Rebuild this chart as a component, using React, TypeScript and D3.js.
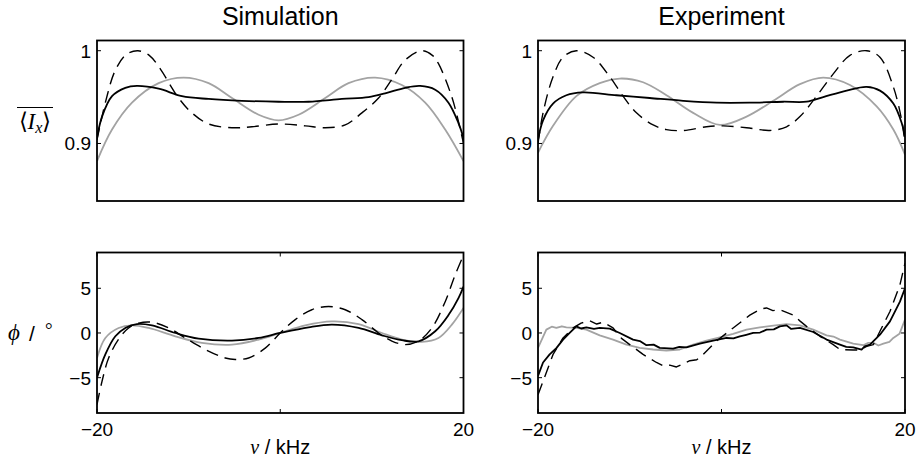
import React from 'react';
import * as d3 from 'd3';

type P = [number, number];

const titles = ['Simulation', 'Experiment'];
const freqDomain: P = [-20, 20];
const freqTicks = [-20, 0, 20];
const freqTickLabels = ['−20', '', '20'];
const ixDomain: P = [0.838, 1.011];
const ixTicks = [0.9, 1];
const ixTickLabels = ['0.9', '1'];
const phiDomain: P = [-8.95, 9.0];
const phiTicks = [-5, 0, 5];
const phiTickLabels = ['−5', '0', '5'];

// Simulation, intensity
const simIxDashed: P[] = [
  [-20, 0.904], [-19.09, 0.944], [-18.0, 0.979], [-16.8, 0.996], [-15.53, 1.0], [-14.3, 0.995], [-13.27, 0.983],
  [-11.09, 0.949], [-9.64, 0.933], [-7.82, 0.921], [-5.27, 0.917], [-3.09, 0.918], [-0.18, 0.921],
  [2.73, 0.919], [4.91, 0.917], [7.09, 0.92], [8.91, 0.933], [10.73, 0.949], [12.18, 0.969],
  [13.64, 0.99], [15.45, 1.0], [16.6, 0.995], [17.27, 0.986], [18.73, 0.95], [19.82, 0.908], [20, 0.9],
];
const simIxSolid: P[] = [
  [-20, 0.906], [-19.45, 0.929], [-18.36, 0.951], [-16.91, 0.96], [-15.64, 0.962], [-13.27, 0.959],
  [-10.73, 0.951], [-7.82, 0.948], [-4.18, 0.946], [-0.18, 0.945], [3.09, 0.945], [6.73, 0.948],
  [9.64, 0.95], [11.45, 0.954], [13.64, 0.96], [15.27, 0.962], [16.91, 0.958], [18.36, 0.944],
  [19.45, 0.922], [20, 0.906],
];
const simIxGray: P[] = [
  [-20, 0.881], [-18.36, 0.915], [-16.18, 0.944], [-13.27, 0.965], [-10.55, 0.971], [-7.82, 0.965],
  [-5.27, 0.949], [-2.36, 0.931], [-0.18, 0.925], [2.0, 0.931], [4.91, 0.949], [7.45, 0.965],
  [10.36, 0.971], [13.27, 0.963], [15.82, 0.944], [18.0, 0.915], [20, 0.881],
];

// Experiment, intensity
const expIxDashed: P[] = [
  [-20, 0.9], [-19.45, 0.933], [-18.36, 0.972], [-17.27, 0.993], [-15.82, 1.0], [-14.0, 0.993],
  [-12.18, 0.972], [-10.73, 0.951], [-9.27, 0.933], [-7.45, 0.92], [-6.0, 0.915], [-4.18, 0.914],
  [-1.64, 0.918], [0.18, 0.919], [2.73, 0.917], [5.27, 0.914], [7.09, 0.918], [8.55, 0.929],
  [10.36, 0.951], [12.18, 0.975], [14.0, 0.995], [15.82, 1.0], [17.27, 0.993], [18.73, 0.961],
  [19.64, 0.925], [20, 0.9],
];
const expIxSolid: P[] = [
  [-20, 0.904], [-19.45, 0.925], [-18.36, 0.943], [-16.91, 0.952], [-15.09, 0.955], [-11.45, 0.952],
  [-7.82, 0.949], [-4.18, 0.946], [-0.55, 0.944], [3.09, 0.944], [6.73, 0.945], [9.27, 0.945],
  [11.09, 0.95], [13.64, 0.957], [15.82, 0.961], [17.27, 0.957], [18.73, 0.943], [19.64, 0.922],
  [20, 0.907],
];
const expIxGray: P[] = [
  [-20, 0.89], [-18.36, 0.919], [-15.82, 0.951], [-13.27, 0.965], [-11.09, 0.97], [-8.55, 0.966],
  [-6.0, 0.952], [-3.09, 0.933], [-0.18, 0.92], [2.73, 0.929], [5.64, 0.946], [8.55, 0.964],
  [11.09, 0.971], [14.0, 0.963], [16.91, 0.94], [18.73, 0.915], [20, 0.888],
];

// Simulation, phase
const simPhiDashed: P[] = [
  [-20, -8.0], [-19.45, -5.4], [-18.73, -2.8], [-17.64, -0.7], [-16.55, 0.56], [-15.45, 1.1],
  [-14.0, 1.2], [-12.18, 0.56], [-10.36, -0.56], [-8.18, -1.85], [-6.0, -2.8], [-4.91, -2.96],
  [-3.45, -2.8], [-1.64, -1.7], [0, 0], [1.64, 1.5], [3.45, 2.6], [5.27, 2.96], [7.09, 2.6],
  [8.91, 1.5], [10.73, 0], [12.18, -0.9], [13.64, -1.3], [15.09, -0.9], [16.55, 0.56], [18.0, 3.5],
  [19.09, 6.5], [20, 8.7],
];
const simPhiSolid: P[] = [
  [-20, -5], [-19.09, -2.4], [-18.0, -0.37], [-16.91, 0.56], [-15.64, 1.0], [-14.0, 0.85],
  [-11.45, 0], [-8.91, -0.63], [-5.27, -0.85], [-2.36, -0.56], [0, 0], [3.09, 0.63], [5.64, 0.93],
  [8.55, 0.56], [11.09, -0.26], [13.27, -0.81], [15.09, -0.93], [16.91, 0.19], [18.36, 2.0],
  [19.45, 3.9], [20, 5.2],
];
const simPhiGray: P[] = [
  [-20, -2.8], [-19.09, -0.56], [-17.64, 0.56], [-16.18, 0.85], [-14.36, 0.56], [-11.45, -0.37],
  [-8.55, -1.1], [-5.27, -1.3], [-2.36, -0.74], [0, 0], [2.73, 0.85], [5.64, 1.3], [8.55, 1.0],
  [11.09, 0], [13.27, -0.74], [15.45, -1.0], [17.27, -0.56], [18.73, 0.93], [20, 2.8],
];

// Experiment, phase
const expPhiDashed: P[] = [
  [-20, -6.9], [-19.45, -5.4], [-18.36, -2.4], [-17.27, -0.56], [-16.18, 0.56], [-15.3, 1.1],
  [-14.36, 1.37], [-13.6, 1.0], [-12.91, 1.2], [-11.82, 0.56], [-10.9, -0.6], [-10.0, -1.3],
  [-8.55, -2.4], [-7.09, -3.3], [-6.3, -3.7], [-5.64, -3.6], [-4.91, -3.8], [-3.45, -3.1],
  [-2.7, -3.0], [-2.0, -2.4], [-0.55, -0.9], [1.27, 0.56], [3.09, 2.0], [4.3, 2.7], [4.91, 2.8],
  [5.6, 2.5], [6.36, 2.6], [7.82, 2.0], [8.6, 1.3], [9.27, 0.74], [10.73, -0.37], [12.18, -1.3],
  [12.91, -1.85], [14.36, -1.9], [15.09, -1.9], [15.82, -1.5], [16.55, -1.3], [17.27, 0.19],
  [18.36, 2.4], [19.45, 5.4], [20, 7.8],
];
const expPhiSolid: P[] = [
  [-20, -4.8], [-19.45, -3.3], [-18.73, -2.4], [-18.0, -1.7], [-17.27, -0.74], [-16.55, 0],
  [-15.82, 0.74], [-15.3, 0.5], [-14.73, 0.63], [-13.9, 0.45], [-13.27, 0.56], [-12.18, 0.48],
  [-11.09, 0], [-9.64, -0.74], [-8.9, -0.9], [-8.18, -1.37], [-7.4, -1.3], [-6.73, -1.67],
  [-5.27, -1.74], [-4.6, -1.55], [-3.82, -1.6], [-2.36, -1.2], [-0.91, -0.85], [0.55, -0.56],
  [1.3, -0.6], [2.0, -0.37], [2.7, -0.2], [3.45, 0], [4.2, 0.05], [4.91, 0.37], [5.7, 0.4],
  [6.36, 0.74], [7.09, 0.85], [7.6, 0.45], [8.55, 0.56], [10.0, 0.11], [11.45, -0.74],
  [12.91, -1.3], [13.6, -1.55], [14.36, -1.6], [15.27, -1.85], [15.6, -1.5], [16.18, -1.3],
  [17.27, -0.19], [18.36, 1.3], [19.45, 3.5], [20, 5],
];
const expPhiGray: P[] = [
  [-20, -1.67], [-19.09, 0.37], [-18.5, 0.7], [-18.0, 0.56], [-17.4, 0.75], [-16.91, 0.63],
  [-15.82, 0.56], [-14.73, 0.37], [-13.27, -0.26], [-11.82, -0.74], [-10.36, -1.3], [-8.91, -1.67],
  [-7.45, -1.85], [-6.0, -1.96], [-4.55, -1.85], [-3.09, -1.3], [-1.64, -0.85], [-0.18, -0.48],
  [1.27, -0.11], [2.73, 0.37], [4.18, 0.63], [5.64, 0.81], [7.09, 1.0], [8.55, 0.85], [10.0, 0.37],
  [11.45, -0.26], [12.2, -0.4], [12.91, -0.74], [14.36, -1.2], [15.45, -1.37], [16.0, -1.1],
  [16.55, -1.1], [17.1, -1.4], [17.64, -1.2], [18.3, -1.0], [18.73, -0.56], [19.4, -0.1], [20, 1.5],
];

const SANS = '"Liberation Sans", Arial, Helvetica, sans-serif';
const SERIF = '"Liberation Serif", "Times New Roman", serif';
const GRAY = '#a3a3a3';

type Series = { data: P[]; kind: 'gray' | 'dashed' | 'solid' };

type PanelProps = {
  id: string;
  x0: number; x1: number; y0: number; y1: number;
  yDomain: P; yTicks: number[]; yTickLabels: string[];
  series: Series[];
  showXAxis: boolean;
  smooth: boolean;
};

function Panel({ id, x0, x1, y0, y1, yDomain, yTicks, yTickLabels, series, showXAxis, smooth }: PanelProps) {
  const x = d3.scaleLinear().domain(freqDomain).range([x0, x1]);
  const y = d3.scaleLinear().domain(yDomain).range([y1, y0]);
  const line = d3
    .line<P>()
    .x((d) => x(d[0]))
    .y((d) => y(d[1]))
    .curve(smooth ? d3.curveCatmullRom.alpha(0.5) : d3.curveLinear);
  const tl = 4;
  const style = (k: Series['kind']) =>
    k === 'gray'
      ? { stroke: GRAY, strokeWidth: 1.8 }
      : k === 'dashed'
      ? { stroke: '#000', strokeWidth: 1.4, strokeDasharray: '12,7' }
      : { stroke: '#000', strokeWidth: 1.8 };
  return (
    <g>
      <defs>
        <clipPath id={id}>
          <rect x={x0} y={y0} width={x1 - x0} height={y1 - y0} />
        </clipPath>
      </defs>
      <g clipPath={`url(#${id})`}>
        {series.map((s, i) => (
          <path key={i} d={line(s.data) || ''} fill="none" {...style(s.kind)} strokeLinejoin="round" />
        ))}
      </g>
      {showXAxis &&
        freqTicks.map((t, i) => (
          <g key={'xt' + i}>
            <line x1={x(t)} x2={x(t)} y1={y1} y2={y1 - tl} stroke="#000" strokeWidth={1} />
            <line x1={x(t)} x2={x(t)} y1={y0} y2={y0 + tl} stroke="#000" strokeWidth={1} />
            {freqTickLabels[i] !== '' && (
              <text x={x(t)} y={436} textAnchor="middle" fontFamily={SANS} fontSize={19}>
                {freqTickLabels[i]}
              </text>
            )}
          </g>
        ))}
      {yTicks.map((t, i) => (
        <g key={'yt' + i}>
          <line x1={x0} x2={x0 + tl} y1={y(t)} y2={y(t)} stroke="#000" strokeWidth={1} />
          <line x1={x1} x2={x1 - tl} y1={y(t)} y2={y(t)} stroke="#000" strokeWidth={1} />
          <text x={x0 - 6} y={y(t) + 7} textAnchor="end" fontFamily={SANS} fontSize={19}>
            {yTickLabels[i]}
          </text>
        </g>
      ))}
      <rect x={x0} y={y0} width={x1 - x0} height={y1 - y0} fill="none" stroke="#000" strokeWidth={1.8} />
    </g>
  );
}

export default function App() {
  const cols = [
    { x0: 97, x1: 463.5 },
    { x0: 538, x1: 905 },
  ];
  const top = { y0: 40.5, y1: 201 };
  const bot = { y0: 252.5, y1: 413 };
  const ixSets: Series[][] = [
    [
      { data: simIxGray, kind: 'gray' },
      { data: simIxDashed, kind: 'dashed' },
      { data: simIxSolid, kind: 'solid' },
    ],
    [
      { data: expIxGray, kind: 'gray' },
      { data: expIxDashed, kind: 'dashed' },
      { data: expIxSolid, kind: 'solid' },
    ],
  ];
  const phiSets: Series[][] = [
    [
      { data: simPhiGray, kind: 'gray' },
      { data: simPhiDashed, kind: 'dashed' },
      { data: simPhiSolid, kind: 'solid' },
    ],
    [
      { data: expPhiGray, kind: 'gray' },
      { data: expPhiDashed, kind: 'dashed' },
      { data: expPhiSolid, kind: 'solid' },
    ],
  ];
  return (
    <svg
      width={920}
      height={464}
      style={{ position: 'absolute', left: 0, top: 0, background: '#fff' }}
      xmlns="http://www.w3.org/2000/svg"
    >
      <rect width={920} height={464} fill="#fff" />
      {cols.map((c, i) => (
        <g key={i}>
          <text x={(c.x0 + c.x1) / 2} y={25} textAnchor="middle" fontFamily={SANS} fontSize={25}>
            {titles[i]}
          </text>
          <Panel
            id={'ix' + i}
            {...c}
            {...top}
            yDomain={ixDomain}
            yTicks={ixTicks}
            yTickLabels={ixTickLabels}
            series={ixSets[i]}
            showXAxis={false}
            smooth={true}
          />
          <Panel
            id={'phi' + i}
            {...c}
            {...bot}
            yDomain={phiDomain}
            yTicks={phiTicks}
            yTickLabels={phiTickLabels}
            series={phiSets[i]}
            showXAxis={true}
            smooth={i === 0}
          />
          <text x={(c.x0 + c.x1) / 2} y={454} textAnchor="middle" fontSize={20} fontFamily={SANS}>
            <tspan fontFamily={SERIF} fontStyle="italic">ν</tspan>
            <tspan> / kHz</tspan>
          </text>
        </g>
      ))}
      {/* y label top: overline <I_x> */}
      <line x1={17} x2={53} y1={107.5} y2={107.5} stroke="#000" strokeWidth={1.2} />
      <text x={35} y={129} textAnchor="middle" fontFamily={SERIF} fontSize={23}>
        <tspan>⟨</tspan>
        <tspan fontStyle="italic">I</tspan>
        <tspan fontStyle="italic" fontSize={16} dy={4}>x</tspan>
        <tspan dy={-4}>⟩</tspan>
      </text>
      {/* y label bottom: phi / degree */}
      <text x={8} y={340} fontFamily={SERIF} fontSize={23} fontStyle="italic">ϕ</text>
      <text x={29} y={341} fontFamily={SANS} fontSize={21}>/</text>
      <text x={45} y={336} fontFamily={SERIF} fontSize={19}>°</text>
    </svg>
  );
}
